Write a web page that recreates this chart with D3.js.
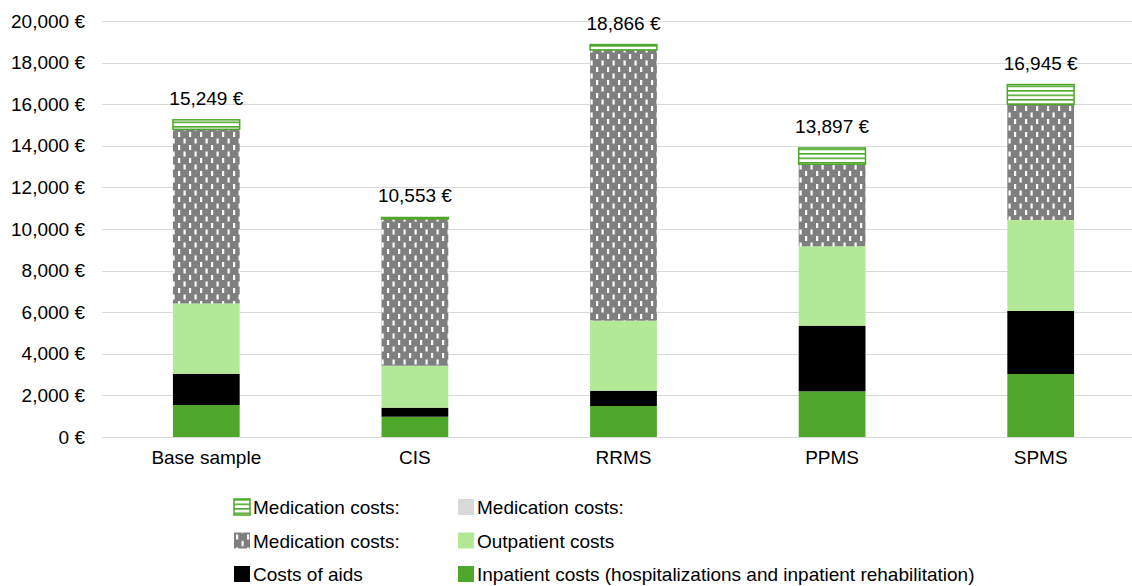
<!DOCTYPE html>
<html>
<head>
<meta charset="utf-8">
<script src="https://cdn.jsdelivr.net/npm/d3@7"></script>
<style>
  body { margin: 0; background: #fff; }
  svg { font-family: "Liberation Sans", Arial, sans-serif; }
</style>
</head>
<body>
<div id="chart"></div>
<script>
// data
var groups = ["Base sample", "CIS", "RRMS", "PPMS", "SPMS"];
var inpatient = [1540, 976, 1490, 2196, 3029];
var aids = [1500, 433, 736, 3155, 3029];
var outpatient = [3380, 2019, 3365, 3817, 4375];
var medDotted = [8373, 7053, 13015, 3942, 5562];
var medGrey = [0, 0, 0, 0, 0];
var medHatched = [456, 72, 260, 787, 950];
var totals = [15249, 10553, 18866, 13897, 16945];
var yTicks = [0, 2000, 4000, 6000, 8000, 10000, 12000, 14000, 16000, 18000, 20000];

var seriesNames = ["Inpatient costs (hospitalizations and inpatient rehabilitation)",
  "Costs of aids", "Outpatient costs", "Medication costs:", "Medication costs: ", "Medication costs:  "];
var seriesVals = [inpatient, aids, outpatient, medDotted, medGrey, medHatched];
var fills = ["#4ea72a", "#000000", "#b3e896", "url(#dots)", "#d9d9d9", "url(#hatch)"];

var W = 1132, H = 586, FS = 19;
var svg = d3.select("#chart").append("svg")
    .attr("width", W).attr("height", H);

var defs = svg.append("defs");
// grey with white dashes
var dots = defs.append("pattern").attr("id", "dots")
    .attr("patternUnits", "userSpaceOnUse").attr("width", 11).attr("height", 13);
dots.append("rect").attr("width", 11).attr("height", 13).attr("fill", "#7f7f7f");
dots.append("rect").attr("x", 2).attr("y", 2).attr("width", 2.2).attr("height", 5).attr("fill", "#fff");
dots.append("rect").attr("x", 7.5).attr("y", 8.5).attr("width", 2.2).attr("height", 5).attr("fill", "#fff");
dots.append("rect").attr("x", 7.5).attr("y", -4.5).attr("width", 2.2).attr("height", 5).attr("fill", "#fff");
// green horizontal stripes
var hatch = defs.append("pattern").attr("id", "hatch")
    .attr("patternUnits", "userSpaceOnUse").attr("width", 8).attr("height", 4.5);
hatch.append("rect").attr("width", 8).attr("height", 4.5).attr("fill", "#fff");
hatch.append("rect").attr("y", 0).attr("width", 8).attr("height", 1.6).attr("fill", "#4ea72a");

var y = d3.scaleLinear().domain([0, 20000]).range([437, 21]);
var x = d3.scaleBand().domain(groups).range([102, 1145]).paddingInner(0.68).paddingOuter(0.34);

var fmt = function(v) { return d3.format(",")(v) + " €"; };

// gridlines
svg.append("g").selectAll("line").data(yTicks).enter().append("line")
    .attr("x1", 102).attr("x2", W)
    .attr("y1", function(d) { return Math.round(y(d)) + 0.5; })
    .attr("y2", function(d) { return Math.round(y(d)) + 0.5; })
    .attr("stroke", "#d9d9d9").attr("stroke-width", 1);

// y axis labels
var yAxis = d3.axisLeft(y).tickValues(yTicks).tickFormat(fmt).tickSize(0).tickPadding(17);
var ya = svg.append("g").attr("transform", "translate(102,0)").call(yAxis);
ya.select(".domain").remove();
ya.selectAll("text").attr("font-size", FS).attr("fill", "#000")
    .attr("font-family", "Liberation Sans, Arial, sans-serif");

// x axis labels
var xAxis = d3.axisBottom(x).tickSize(0).tickPadding(14);
var xa = svg.append("g").attr("transform", "translate(0,437)").call(xAxis);
xa.select(".domain").remove();
xa.selectAll("text").attr("font-size", FS).attr("fill", "#000")
    .attr("font-family", "Liberation Sans, Arial, sans-serif");

// stack
var rows = groups.map(function(g, i) {
  var r = { group: g };
  seriesNames.forEach(function(s, k) { r[s] = seriesVals[k][i]; });
  return r;
});
var stack = d3.stack().keys(seriesNames)(rows);

var layers = svg.append("g").selectAll("g").data(stack).enter().append("g")
    .attr("fill", function(d, k) { return fills[k]; });

layers.selectAll("rect").data(function(d) { return d.filter(function(p) { return p[1] > p[0]; }); })
  .enter().append("rect")
    .attr("x", function(d) { return x(d.data.group); })
    .attr("width", x.bandwidth())
    .attr("y", function(d) { return y(d[1]); })
    .attr("height", function(d) { return y(d[0]) - y(d[1]); });

// border on hatched segment
layers.filter(function(d, k) { return k === 5; }).selectAll("rect")
    .attr("stroke", "#4ea72a").attr("stroke-width", 1.5);

// total labels
svg.append("g").selectAll("text").data(groups).enter().append("text")
    .attr("x", function(d) { return x(d) + x.bandwidth() / 2; })
    .attr("y", function(d, i) { return y(totals[i]) - 15; })
    .attr("text-anchor", "middle")
    .attr("font-size", FS)
    .text(function(d, i) { return fmt(totals[i]); });

// legend (reverse order, two columns)
var legendItems = [
  { k: 5, col: 0, row: 0 }, { k: 4, col: 1, row: 0 },
  { k: 3, col: 0, row: 1 }, { k: 2, col: 1, row: 1 },
  { k: 1, col: 0, row: 2 }, { k: 0, col: 1, row: 2 }
];
var lg = svg.append("g").selectAll("g").data(legendItems).enter().append("g")
    .attr("transform", function(d) { return "translate(" + (234 + d.col * 224) + "," + (499 + d.row * 33.5) + ")"; });
lg.append("rect")
    .attr("width", 16).attr("height", 16)
    .attr("fill", function(d) { return fills[d.k]; })
    .attr("stroke", function(d) { return d.k === 5 ? "#4ea72a" : null; })
    .attr("stroke-width", 1.5);
lg.append("text")
    .attr("x", 19).attr("y", 15)
    .attr("font-size", FS)
    .text(function(d) { return seriesNames[d.k].trim(); });
</script>
</body>
</html>
